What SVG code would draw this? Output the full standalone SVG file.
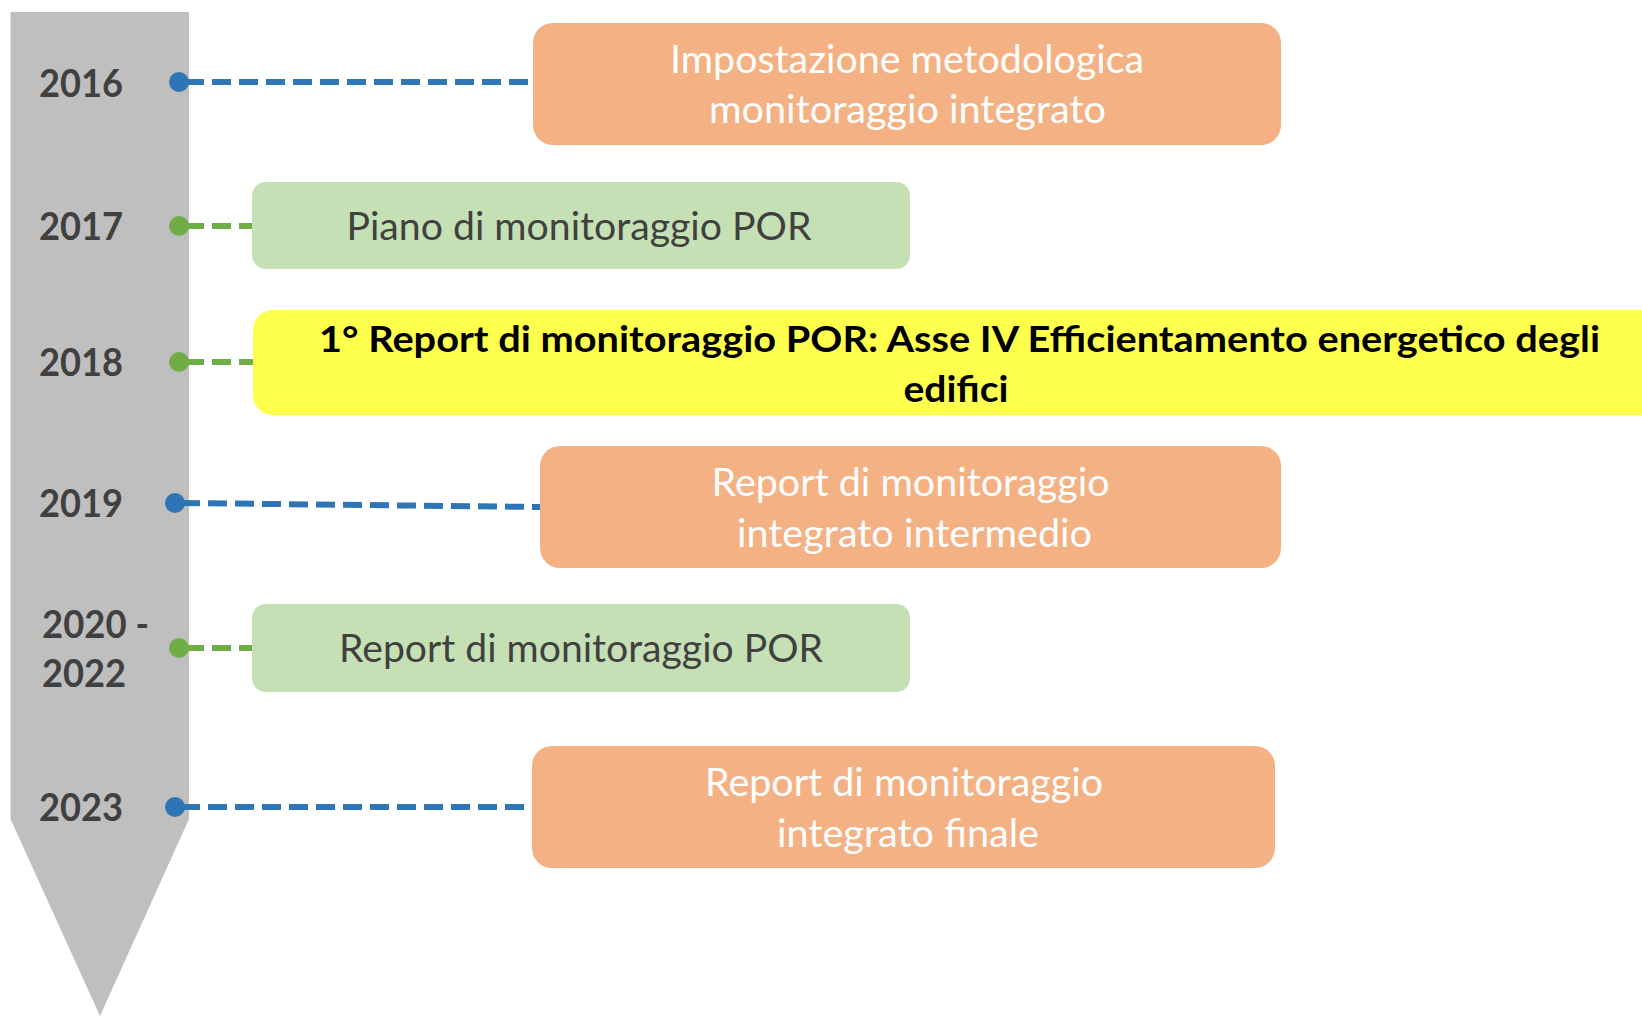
<svg xmlns="http://www.w3.org/2000/svg" width="1642" height="1016" viewBox="0 0 1642 1016">
<style>
.year{font-family:Lato,"Liberation Sans",sans-serif;font-weight:700;font-size:38px;fill:#404040}
.wt{font-family:Lato,"Liberation Sans",sans-serif;font-size:38px;fill:#ffffff;text-anchor:middle}
.gt{font-family:Lato,"Liberation Sans",sans-serif;font-size:38px;fill:#404040;text-anchor:middle}
.yt{font-family:Lato,"Liberation Sans",sans-serif;font-weight:700;font-size:37px;fill:#000000;text-anchor:middle}
.orange{fill:#F4B183}
.green{fill:#C5E0B4}
.yellow{fill:#FFFF4D}
.blue{stroke:#2E75B6;stroke-width:6;stroke-dasharray:19 8;fill:none}
.gline{stroke:#70AD47;stroke-width:6;stroke-dasharray:19 8;fill:none}
.bdot{fill:#2E75B6}
.gdot{fill:#70AD47}
</style>
<rect x="0" y="0" width="1642" height="1016" fill="#ffffff"/>
<g id="timeline">
<polygon points="10.5,12 189,12 189,819 100,1016 10.5,819" fill="#BFBFBF"/>
<text class="year" x="39" y="97" textLength="84" lengthAdjust="spacingAndGlyphs">2016</text>
<text class="year" x="39" y="240" textLength="84" lengthAdjust="spacingAndGlyphs">2017</text>
<text class="year" x="39" y="376" textLength="84" lengthAdjust="spacingAndGlyphs">2018</text>
<text class="year" x="39" y="517" textLength="84" lengthAdjust="spacingAndGlyphs">2019</text>
<text class="year" x="42" y="638" textLength="107" lengthAdjust="spacingAndGlyphs">2020 -</text>
<text class="year" x="42" y="687" textLength="84" lengthAdjust="spacingAndGlyphs">2022</text>
<text class="year" x="39" y="821" textLength="84" lengthAdjust="spacingAndGlyphs">2023</text>
</g>
<g id="connectors">
<line class="blue" x1="185" y1="82" x2="533" y2="82"/>
<line class="gline" x1="185" y1="226" x2="252" y2="226"/>
<line class="gline" x1="185" y1="362" x2="254" y2="362"/>
<line class="blue" x1="181" y1="503" x2="540" y2="507"/>
<line class="gline" x1="185" y1="648" x2="252" y2="648"/>
<line class="blue" x1="181" y1="807" x2="532" y2="807"/>
<circle class="bdot" cx="179" cy="82" r="10"/>
<circle class="gdot" cx="179" cy="226" r="10"/>
<circle class="gdot" cx="179" cy="362" r="10"/>
<circle class="bdot" cx="175" cy="503" r="10"/>
<circle class="gdot" cx="179" cy="648" r="10"/>
<circle class="bdot" cx="175" cy="807" r="10"/>
</g>
<g id="node-2016">
<rect class="orange" x="533" y="23" width="748" height="122" rx="20"/>
<text class="wt" x="907" y="73" textLength="474" lengthAdjust="spacingAndGlyphs">Impostazione metodologica</text>
<text class="wt" x="907.5" y="123" textLength="397" lengthAdjust="spacingAndGlyphs">monitoraggio integrato</text>
</g>
<g id="node-2017">
<rect class="green" x="252" y="182" width="658" height="87" rx="14"/>
<text class="gt" x="579" y="240" textLength="465" lengthAdjust="spacingAndGlyphs">Piano di monitoraggio POR</text>
</g>
<g id="node-2018">
<rect class="yellow" x="253" y="310" width="1420" height="105" rx="20"/>
<text class="yt" x="959.5" y="352" textLength="1281" lengthAdjust="spacingAndGlyphs">1° Report di monitoraggio POR: Asse IV Efficientamento energetico degli</text>
<text class="yt" x="956" y="402" textLength="105" lengthAdjust="spacingAndGlyphs">edifici</text>
</g>
<g id="node-2019">
<rect class="orange" x="540" y="446" width="741" height="122" rx="20"/>
<text class="wt" x="910.5" y="496" textLength="398" lengthAdjust="spacingAndGlyphs">Report di monitoraggio</text>
<text class="wt" x="914.5" y="547" textLength="355" lengthAdjust="spacingAndGlyphs">integrato intermedio</text>
</g>
<g id="node-2020-2022">
<rect class="green" x="252" y="604" width="658" height="88" rx="14"/>
<text class="gt" x="581" y="662" textLength="484" lengthAdjust="spacingAndGlyphs">Report di monitoraggio POR</text>
</g>
<g id="node-2023">
<rect class="orange" x="532" y="746" width="743" height="122" rx="20"/>
<text class="wt" x="904" y="796" textLength="398" lengthAdjust="spacingAndGlyphs">Report di monitoraggio</text>
<text class="wt" x="908" y="847" textLength="262" lengthAdjust="spacingAndGlyphs">integrato finale</text>
</g>
</svg>
